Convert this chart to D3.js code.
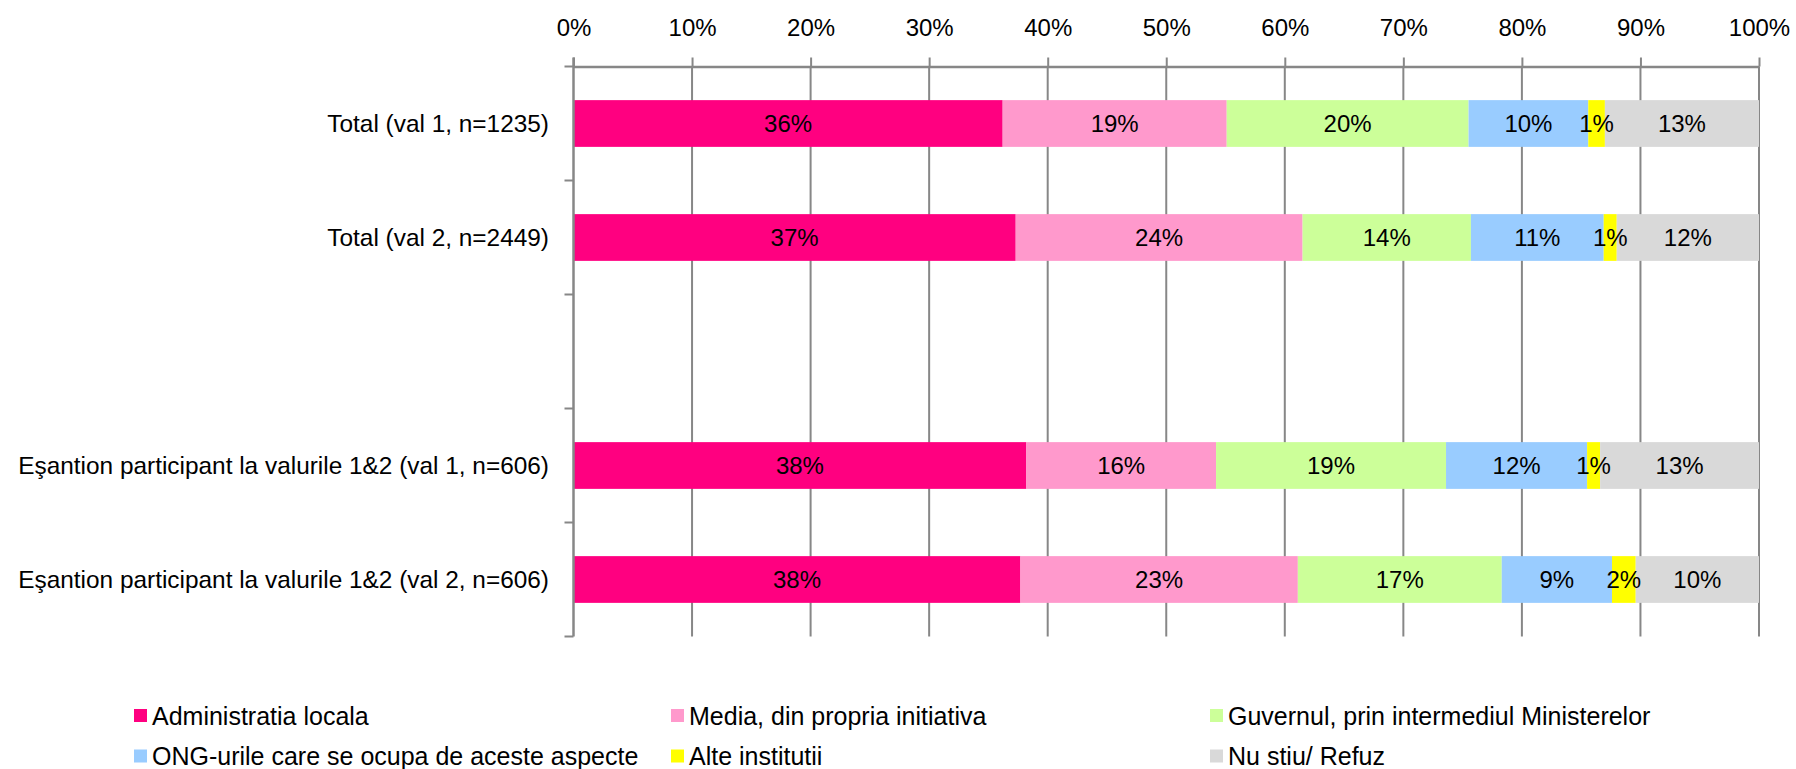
<!DOCTYPE html>
<html>
<head>
<meta charset="utf-8">
<script src="https://d3js.org/d3.v7.min.js"></script>
<style>
    body { margin: 0; background: #fff; }
    text { font-family: "Liberation Sans", Arial, sans-serif; fill: #000; }
</style>
</head>
<body>
<script>
//categories on the vertical axis (empty slot = gap between groups)
var categories = [
    "Total (val 1, n=1235)",
    "Total (val 2, n=2449)",
    "",
    "E\u015fantion participant la valurile 1&2 (val 1, n=606)",
    "E\u015fantion participant la valurile 1&2 (val 2, n=606)"
];

//series names, as in the legend
var seriesNames = [
    "Administratia locala",
    "Media, din propria initiativa",
    "Guvernul, prin intermediul Ministerelor",
    "ONG-urile care se ocupa de aceste aspecte",
    "Alte institutii",
    "Nu stiu/ Refuz"
];

//one array per series, values in %, one value per category (null = no bar)
var adminLocala = [36.2, 37.3, null, 38.2, 37.7];
var media       = [18.9, 24.2, null, 16.0, 23.4];
var guvernul    = [20.4, 14.2, null, 19.4, 17.2];
var ong         = [10.1, 11.2, null, 11.9, 9.3];
var alte        = [1.4, 1.1, null, 1.1, 2.0];
var nuStiu      = [13.0, 12.0, null, 13.4, 10.4];

var seriesValues = [adminLocala, media, guvernul, ong, alte, nuStiu];

//tick values of the percent axis
var tickValues = [0, 10, 20, 30, 40, 50, 60, 70, 80, 90, 100];

var colors = ["#FF0080", "#FF99CC", "#CCFF99", "#99CCFF", "#FFFF00", "#D9D9D9"];

window.onload = drawChart;

function drawChart() {
    var width = 1796, height = 769;
    var plot = {left: 573.5, right: 1759, top: 66.5, bottom: 636.5};

    var svg = d3.select("body").append("svg")
        .attr("width", width)
        .attr("height", height);

    var x = d3.scaleLinear()
        .domain([0, 100])
        .range([plot.left, plot.right]);

    var y = d3.scaleBand()
        .domain(d3.range(categories.length))
        .range([plot.top, plot.bottom])
        .paddingInner(0.59)
        .paddingOuter(0.295);

    var step = y.step();

    //vertical gridlines, behind bars
    svg.append("g")
        .attr("class", "grid")
      .selectAll("line")
        .data(tickValues.slice(1))
        .enter()
      .append("line")
        .attr("x1", function(d) { return x(d); })
        .attr("x2", function(d) { return x(d); })
        .attr("y1", plot.top)
        .attr("y2", plot.bottom)
        .attr("stroke", "#878787")
        .attr("stroke-width", 2);

    //stack the series for every category
    var rows = categories.map(function(c, i) {
        var start = 0;
        var segs = [];
        seriesValues.forEach(function(vals, s) {
            if (vals[i] == null) return;
            segs.push({cat: i, series: s, x0: start, x1: start + vals[i], v: vals[i]});
            start += vals[i];
        });
        return segs;
    });
    var segments = [].concat.apply([], rows);

    var bars = svg.append("g").attr("class", "bars");

    bars.selectAll("rect")
        .data(segments)
        .enter()
      .append("rect")
        .attr("x", function(d) { return x(d.x0); })
        .attr("y", function(d) { return y(d.cat); })
        .attr("width", function(d) { return x(d.x1) - x(d.x0); })
        .attr("height", y.bandwidth())
        .attr("fill", function(d) { return colors[d.series]; });

    bars.selectAll("text")
        .data(segments)
        .enter()
      .append("text")
        .attr("x", function(d) { return (x(d.x0) + x(d.x1)) / 2; })
        .attr("y", function(d) { return y(d.cat) + y.bandwidth() / 2; })
        .attr("dy", "0.36em")
        .attr("text-anchor", "middle")
        .style("font-size", "24px")
        .text(function(d) { return Math.round(d.v) + "%"; });

    //top percent axis
    var xAxis = d3.axisTop(x)
        .tickValues(tickValues)
        .tickFormat(function(d) { return d + "%"; })
        .tickSizeInner(9)
        .tickSizeOuter(0)
        .tickPadding(22);

    var xg = svg.append("g")
        .attr("transform", "translate(0," + plot.top + ")")
        .call(xAxis);
    xg.select(".domain").attr("stroke", "#878787").attr("stroke-width", 2.5);
    xg.selectAll(".tick line").attr("stroke", "#878787").attr("stroke-width", 2);
    xg.selectAll(".tick text")
        .style("font-size", "24px")
        .style("font-family", "Liberation Sans, Arial, sans-serif")
        .attr("fill", "#000");

    //left category axis: line plus ticks at slot boundaries
    var yg = svg.append("g").attr("class", "yaxis");
    yg.append("line")
        .attr("x1", plot.left).attr("x2", plot.left)
        .attr("y1", plot.top - 9).attr("y2", plot.bottom)
        .attr("stroke", "#878787")
        .attr("stroke-width", 2.5);
    yg.selectAll(".ytick")
        .data(d3.range(categories.length + 1))
        .enter()
      .append("line")
        .attr("class", "ytick")
        .attr("x1", plot.left - 9).attr("x2", plot.left)
        .attr("y1", function(d) { return plot.top + d * step; })
        .attr("y2", function(d) { return plot.top + d * step; })
        .attr("stroke", "#878787")
        .attr("stroke-width", 2);

    yg.selectAll(".ylabel")
        .data(categories)
        .enter()
      .append("text")
        .attr("class", "ylabel")
        .attr("x", 549)
        .attr("y", function(d, i) { return y(i) + y.bandwidth() / 2; })
        .attr("dy", "0.36em")
        .attr("text-anchor", "end")
        .style("font-size", "24.4px")
        .text(function(d) { return d; });

    //legend, 3 columns x 2 rows
    var colX = [134, 671, 1210];
    var rowY = [715.5, 756];

    var legend = svg.selectAll(".legend")
        .data(seriesNames)
        .enter()
      .append("g")
        .attr("class", "legend")
        .attr("transform", function(d, i) {
            return "translate(" + colX[i % 3] + "," + rowY[Math.floor(i / 3)] + ")";
        });

    legend.append("rect")
        .attr("x", 0)
        .attr("y", -6.5)
        .attr("width", 13)
        .attr("height", 13)
        .attr("fill", function(d, i) { return colors[i]; });

    legend.append("text")
        .attr("x", 18)
        .attr("y", 0)
        .attr("dy", "0.36em")
        .style("font-size", "25px")
        .text(function(d) { return d; });
}
</script>
</body>
</html>
